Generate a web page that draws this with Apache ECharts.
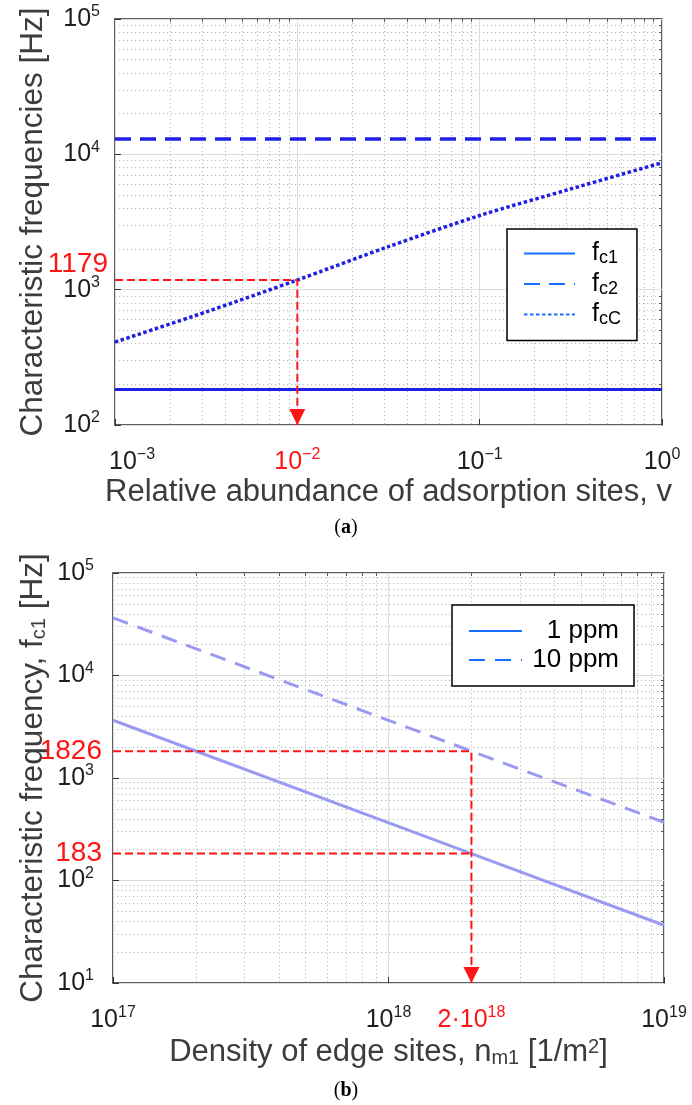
<!DOCTYPE html>
<html>
<head>
<meta charset="utf-8">
<script src="https://cdn.jsdelivr.net/npm/echarts@6/dist/echarts.min.js"></script>
<style>
  html, body { margin: 0; padding: 0; background: #fff; }
  #chart { width: 692px; height: 1105px; }
</style>
</head>
<body>
<div id="chart"></div>
<script>
// (a) characteristic frequencies vs relative abundance of adsorption sites
const abundance = [0.001, 0.00316, 0.01, 0.0316, 0.1, 0.316, 1];
const fcC = [410, 685, 1179, 2080, 3530, 5550, 8670];
const abundanceRange = [0.001, 1];
const fc1 = [183, 183];
const fc2 = [13000, 13000];
const guideTopX = [0.001, 0.01, 0.01];
const guideTopY = [1179, 1179, 100];

// (b) fc1 vs density of edge sites
const density = [1e17, 2e18, 1e19];
const ppm1 = [3660, 183, 36.6];
const ppm10 = [36520, 1826, 370];
const guideHiX = [1e17, 2e18, 2e18];
const guideHiY = [1826, 1826, 10];
const guideLoX = [1e17, 2e18];
const guideLoY = [183, 183];

// tick labels
const xTicksTop = [0.001, 0.01, 0.1, 1];
const yTicksTop = [100, 1000, 10000, 100000];
const xTicksBot = [1e17, 1e18, 1e19];
const yTicksBot = [10, 100, 1000, 10000, 100000];
const redXTop = [0.01];
const redYTop = [1179];
const redXBot = [2e18];
const redYBot = [1826, 183];

const F = '"Liberation Sans", Arial, sans-serif';
const INK = '#1e1e1e';
const NAME = '#3c3c3c';
const RED = '#ff1414';
const BLUE = '#1f1fe6';
const LIGHT = '#9a9af2';
const LEG = '#1570ff';

const pairs = (xs, ys) => xs.map((x, i) => [x, ys[i]]);

// minor grid positions 2..9 x 10^e
function minors(e0, e1) {
  const out = [];
  for (let e = e0; e < e1; e++) {
    for (let k = 2; k <= 9; k++) out.push(k * Math.pow(10, e));
  }
  return out;
}

const rich = {
  b: { fontFamily: F, fontSize: 25, color: INK, lineHeight: 30 },
  bp: { fontFamily: F, fontSize: 25, color: INK, lineHeight: 30, padding: [0, 0, 0, 34] },
  s: { fontFamily: F, fontSize: 16, color: INK, verticalAlign: 'top', lineHeight: 16 },
  sy: { fontFamily: F, fontSize: 16, color: INK, verticalAlign: 'top', lineHeight: 16, padding: [0, 8, 0, 0] },
  rb: { fontFamily: F, fontSize: 25, color: RED, lineHeight: 30 },
  rs: { fontFamily: F, fontSize: 16, color: RED, verticalAlign: 'top', lineHeight: 16 },
  rn: { fontFamily: F, fontSize: 28, color: RED, padding: [0, 0, 32, 0] },
  rm: { fontFamily: F, fontSize: 28, color: RED }
};

function expText(v) {
  const e = Math.round(Math.log10(v));
  const m = v / Math.pow(10, e);
  const exp = e < 0 ? '\u2212' + (-e) : String(e);
  const mant = Math.abs(m - 1) > 1e-6 ? Math.round(m) + '\u00b710' : '10';
  return { mant, exp };
}
const near = (list, v) => list.some(t => Math.abs(t - v) / t < 1e-6);

function xLabel(red, first) {
  return v => {
    const t = expText(v);
    if (near(red, v)) return '{rb|' + t.mant + '}{rs|' + t.exp + '}';
    const base = first !== undefined && near([first], v) ? 'bp' : 'b';
    return '{' + base + '|' + t.mant + '}{s|' + t.exp + '}';
  };
}
function yLabel(red, style) {
  return v => {
    if (near(red, v)) return '{' + style + '|' + Math.round(v) + '}';
    const t = expText(v);
    return '{b|' + t.mant + '}{sy|' + t.exp + '}';
  };
}

const mainTick = { inside: true, length: 6, lineStyle: { color: '#333', width: 1 } };
const majorGrid = { show: true, lineStyle: { color: '#dcdcdc', width: 1 } };
const minorGrid = { show: true, lineStyle: { color: '#b8b8b8', width: 1, type: [1.2, 2.8] } };

function minorAxis(grid, min, max, pos, values) {
  return {
    type: 'log', gridIndex: grid, min, max, position: pos,
    axisLine: { show: false }, axisLabel: { show: false },
    axisTick: { show: true, inside: true, length: 3, lineStyle: { color: '#555' }, customValues: values },
    splitLine: minorGrid, silent: true
  };
}

function guide(name, xi, xs, ys, arrow) {
  const data = pairs(xs, ys).map(p => ({ value: p }));
  if (arrow) {
    const last = data[data.length - 1];
    last.symbol = 'triangle';
    last.symbolSize = [16, 16];
    last.symbolRotate = 180;
    last.symbolOffset = [0, -8];
    last.itemStyle = { color: RED };
  }
  return {
    name, type: 'line', xAxisIndex: xi, yAxisIndex: xi, data,
    symbol: 'none', silent: true, z: 4,
    lineStyle: { color: RED, width: 2, type: [8, 4] }
  };
}

const legendBase = {
  orient: 'vertical', borderColor: '#000', borderWidth: 1.5, backgroundColor: '#fff', borderRadius: 0,
  lineStyle: { color: LEG }, itemStyle: { opacity: 0, borderWidth: 0 }, selectedMode: false
};

const gridBase = {
  show: true, borderColor: '#2b2b2b', borderWidth: 1.5, backgroundColor: '#fff',
  containLabel: false, outerBoundsMode: 'none'
};

const chart = echarts.init(document.getElementById('chart'));
chart.setOption({
  animation: false,
  backgroundColor: '#fff',
  grid: [
    Object.assign({ left: 115, top: 19, width: 547, height: 406 }, gridBase),
    Object.assign({ left: 113, top: 573, width: 551, height: 410 }, gridBase)
  ],
  xAxis: [
    {
      type: 'log', gridIndex: 0, min: 0.001, max: 1,
      axisLine: { show: false },
      axisTick: Object.assign({ customValues: xTicksTop }, mainTick),
      splitLine: majorGrid,
      axisLabel: { customValues: xTicksTop, margin: 22, formatter: xLabel(redXTop, xTicksTop[0]), rich },
      name: 'Relative abundance of adsorption sites, v',
      nameLocation: 'middle', nameGap: 52, nameMoveOverlap: false,
      nameTextStyle: { fontFamily: F, fontSize: 31, color: NAME }
    },
    {
      type: 'log', gridIndex: 1, min: 1e17, max: 1e19,
      axisLine: { show: false },
      axisTick: Object.assign({ customValues: xTicksBot }, mainTick),
      splitLine: majorGrid,
      axisLabel: { customValues: xTicksBot.concat(redXBot), margin: 22, formatter: xLabel(redXBot), rich },
      name: 'Density of edge sites, n{sub|m1} [1/m{sup|2}]',
      nameLocation: 'middle', nameGap: 54, nameMoveOverlap: false,
      nameTextStyle: {
        fontFamily: F, fontSize: 31, color: NAME,
        rich: {
          sub: { fontFamily: F, fontSize: 20, color: NAME, verticalAlign: 'bottom', lineHeight: 18 },
          sup: { fontFamily: F, fontSize: 20, color: NAME, verticalAlign: 'top', lineHeight: 18 }
        }
      }
    },
    minorAxis(0, 0.001, 1, 'top', minors(-3, 0)),
    minorAxis(1, 1e17, 1e19, 'top', minors(17, 19))
  ],
  yAxis: [
    {
      type: 'log', gridIndex: 0, min: 100, max: 100000,
      axisLine: { show: false },
      axisTick: Object.assign({ customValues: yTicksTop }, mainTick),
      splitLine: majorGrid,
      axisLabel: { customValues: yTicksTop.concat(redYTop), margin: 7, formatter: yLabel(redYTop, 'rn'), rich },
      name: 'Characteristic frequencies [Hz]',
      nameLocation: 'middle', nameGap: 66, nameRotate: 90, nameMoveOverlap: false,
      nameTextStyle: { fontFamily: F, fontSize: 31.5, color: NAME }
    },
    {
      type: 'log', gridIndex: 1, min: 10, max: 100000,
      axisLine: { show: false },
      axisTick: Object.assign({ customValues: yTicksBot }, mainTick),
      splitLine: majorGrid,
      axisLabel: { customValues: yTicksBot.concat(redYBot), margin: 11, formatter: yLabel(redYBot, 'rm'), rich },
      name: 'Characteristic frequency, f{sub|c1} [Hz]',
      nameLocation: 'middle', nameGap: 64, nameRotate: 90, nameMoveOverlap: false,
      nameTextStyle: {
        fontFamily: F, fontSize: 31.5, color: NAME,
        rich: { sub: { fontFamily: F, fontSize: 20, color: NAME, verticalAlign: 'bottom', lineHeight: 18 } }
      }
    },
    minorAxis(0, 100, 100000, 'right', minors(2, 5)),
    minorAxis(1, 10, 100000, 'right', minors(1, 5))
  ],
  legend: [
    Object.assign({
      data: ['fc1', 'fc2', 'fcC'],
      left: 507, top: 229,
      padding: [12, 16, 12, 16], itemGap: 4, itemWidth: 51, itemHeight: 28,
      formatter: n => '{f|f}{c|' + n.slice(1) + '}',
      textStyle: {
        rich: {
          f: { fontFamily: F, fontSize: 25, color: '#000', lineHeight: 28, padding: [0, 0, 0, 12] },
          c: { fontFamily: F, fontSize: 18, color: '#000', verticalAlign: 'bottom', lineHeight: 17 }
        }
      }
    }, legendBase),
    Object.assign({
      data: ['1 ppm', '10 ppm'],
      left: 452, top: 605,
      padding: [13, 15, 13, 16], itemGap: 3, itemWidth: 53, itemHeight: 28,
      formatter: n => '{t|' + n + '}',
      textStyle: {
        rich: { t: { fontFamily: F, fontSize: 26, color: '#000', lineHeight: 28, width: 92, align: 'right' } }
      }
    }, legendBase)
  ],
  graphic: [
    { type: 'text', x: 346, y: 528, silent: true,
      style: { text: '({b|a})', fill: '#000', font: '20px "Liberation Serif", serif', align: 'center', verticalAlign: 'middle',
        rich: { b: { fontFamily: '"Liberation Serif", serif', fontSize: 20, fontWeight: 'bold', fill: '#000' } } } },
    { type: 'text', x: 346, y: 1091, silent: true,
      style: { text: '({b|b})', fill: '#000', font: '20px "Liberation Serif", serif', align: 'center', verticalAlign: 'middle',
        rich: { b: { fontFamily: '"Liberation Serif", serif', fontSize: 20, fontWeight: 'bold', fill: '#000' } } } }
  ],
  series: [
    { name: 'fc1', type: 'line', xAxisIndex: 0, yAxisIndex: 0, data: pairs(abundanceRange, fc1),
      symbol: 'none', silent: true, color: BLUE, lineStyle: { color: BLUE, width: 3 } },
    { name: 'fc2', type: 'line', xAxisIndex: 0, yAxisIndex: 0, data: pairs(abundanceRange, fc2),
      symbol: 'none', silent: true, color: BLUE, lineStyle: { color: BLUE, width: 3.5, type: [16, 9] } },
    { name: 'fcC', type: 'line', xAxisIndex: 0, yAxisIndex: 0, data: pairs(abundance, fcC), smooth: 0.3,
      symbol: 'none', silent: true, color: BLUE, lineStyle: { color: BLUE, width: 3.5, type: [3.5, 2.5], cap: 'butt' } },
    guide('guideTop', 0, guideTopX, guideTopY, true),
    { name: '1 ppm', type: 'line', xAxisIndex: 1, yAxisIndex: 1, data: pairs(density, ppm1),
      symbol: 'none', silent: true, color: LIGHT, lineStyle: { color: LIGHT, width: 3 } },
    { name: '10 ppm', type: 'line', xAxisIndex: 1, yAxisIndex: 1, data: pairs(density, ppm10),
      symbol: 'none', silent: true, color: LIGHT, lineStyle: { color: LIGHT, width: 3, type: [16, 10] } },
    guide('guideHi', 1, guideHiX, guideHiY, true),
    guide('guideLo', 1, guideLoX, guideLoY, false)
  ]
});
</script>
</body>
</html>
